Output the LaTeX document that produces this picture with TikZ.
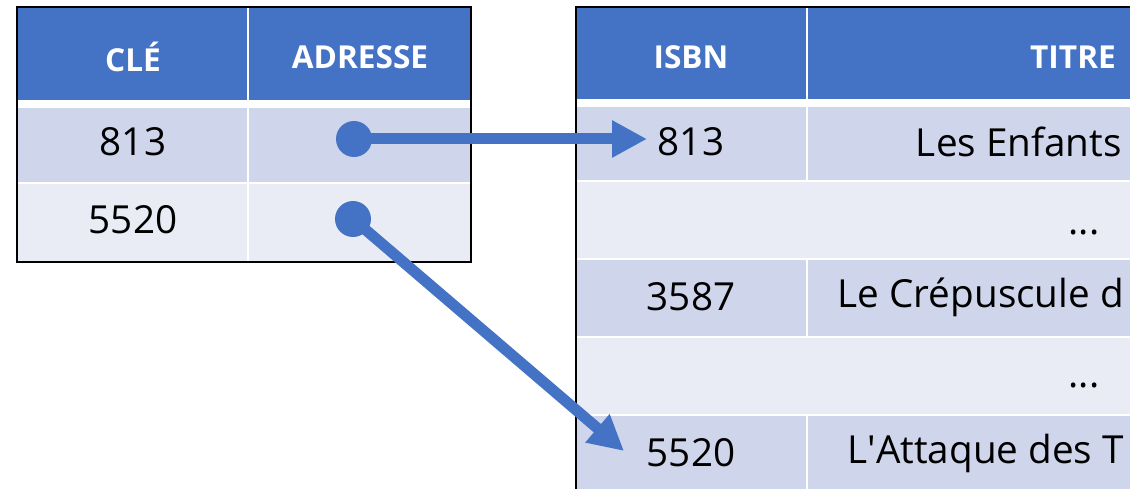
\documentclass[tikz,border=0pt]{standalone}
\usepackage{fontspec}
\setmainfont{Open Sans}
\usetikzlibrary{arrows.meta}
\definecolor{hdr}{HTML}{4472C4}
\definecolor{rowdark}{HTML}{CFD5EA}
\definecolor{rowlight}{HTML}{E9EBF5}

\begin{document}
\begin{tikzpicture}[x=0.02cm,y=-0.02cm,
    head/.style={text=white,font=\fontsize{18}{21}\selectfont\bfseries},
    val/.style={font=\fontsize{22}{26}\selectfont},
    ptr/.style={hdr,line width=0.22cm,-{Triangle[length=0.7cm,width=0.7cm]}},
    dot/.style={circle,fill=hdr,inner sep=0pt,minimum size=0.72cm}]
\useasboundingbox (0,0) rectangle (1130,489);
\clip (0,0) rectangle (1130,489);
% table des cles
\fill[hdr](17,7)rectangle(471,100);
\fill[rowdark](17,108)rectangle(471,182);
\fill[rowlight](17,184)rectangle(471,262);
\draw[white,line width=0.05cm](248,7)--(248,262);
\draw[line width=0.05cm](17,7)rectangle(471,262);
\node[head] (cle) at (133,57) {CLÉ};
\node[head] (adr) at (360,57) {ADRESSE};
\node[val] (k1) at (133,142) {813};
\node[val] (k2) at (133,220) {5520};
\node[dot] (d1) at (354,139) {};
\node[dot] (d2) at (353,219) {};
% table des livres
\fill[hdr](576,7)rectangle(1140,99);
\fill[rowdark](576,107)rectangle(1140,180);
\fill[rowlight](576,182)rectangle(1140,258);
\fill[rowdark](576,260)rectangle(1140,336);
\fill[rowlight](576,338)rectangle(1140,414);
\fill[rowdark](576,416)rectangle(1140,500);
\draw[white,line width=0.05cm](807,7)--(807,180) (807,260)--(807,336) (807,416)--(807,500);
\draw[line width=0.05cm](576,500)--(576,7)--(1140,7);
\node[head] (isbn) at (691,57) {ISBN};
\node[head] (titre) at (1073,57) {TITRE};
\node[val] (i1) at (691,142) {813};
\node[val,anchor=east] (t1) at (1128,142) {Les Enfants};
\node[val] (e1) at (1084,232) {...};
\node[val] (i2) at (691,297) {3587};
\node[val,anchor=east] (t2) at (1130,297) {Le Crépuscule d};
\node[val] (e2) at (1084,385) {...};
\node[val] (i3) at (691,453) {5520};
\node[val,anchor=east] (t3) at (1130,453) {L\textquotesingle Attaque des T};
% pointeurs
\coordinate (p1) at (647,139);
\coordinate (p2) at (624,451);
\draw[ptr](d1.center)--(p1);
\draw[ptr](d2.center)--(p2);
\end{tikzpicture}
\end{document}
